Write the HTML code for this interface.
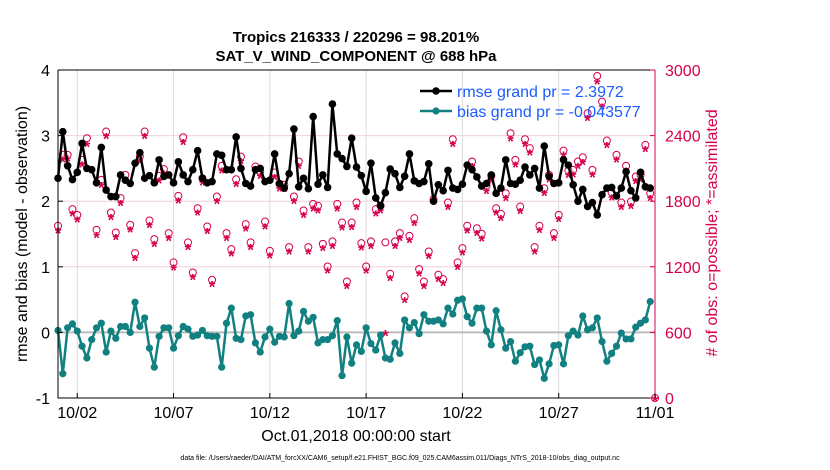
<!DOCTYPE html>
<html><head><meta charset="utf-8"><style>
body{margin:0;background:#fff;}
svg{display:block;font-family:"Liberation Sans",sans-serif;}
</style></head><body>
<svg id="chart" width="830" height="470">
<rect width="830" height="470" fill="#fff"/>
<g id="grid"></g><g id="marks"></g><g id="axes"></g>
</svg>
<script>
const rmse=[2.35,3.06,2.54,2.33,2.44,2.88,2.5,2.48,2.28,2.82,2.17,2.07,2.07,2.4,2.32,2.27,2.58,2.74,2.35,2.39,2.28,2.63,2.38,2.4,2.28,2.6,2.4,2.3,2.48,2.77,2.35,2.28,2.3,2.72,2.7,2.48,2.48,2.98,2.5,2.27,2.23,2.48,2.5,2.3,2.32,2.72,2.27,2.2,2.42,3.1,2.22,2.35,2.19,3.29,2.26,2.4,2.21,3.48,2.72,2.65,2.53,2.96,2.52,2.39,2.15,2.58,2.05,1.93,2.13,2.49,2.42,2.21,2.38,2.72,2.31,2.27,2.3,2.57,2.0,2.25,2.16,2.47,2.2,2.18,2.26,2.55,2.48,2.37,2.23,2.27,2.4,2.12,2.2,2.63,2.27,2.26,2.32,2.52,2.4,2.5,2.2,2.84,2.38,2.27,2.28,2.63,2.55,2.25,2.0,2.18,1.92,1.98,1.79,2.1,2.2,2.21,2.08,2.2,2.45,2.16,2.05,2.44,2.22,2.2];
const bias=[0.03,-0.63,0.07,0.13,0.02,-0.21,-0.39,-0.11,0.07,0.14,-0.3,0.02,-0.09,0.09,0.09,0,0.46,0.09,0.22,-0.24,-0.53,-0.06,0.07,0.07,-0.24,-0.05,0.09,0.05,-0.06,-0.04,0.03,-0.05,-0.06,-0.06,-0.53,0.14,0.37,-0.09,-0.11,0.25,0.27,-0.16,-0.3,-0.07,0.05,-0.15,-0.06,-0.07,0.44,-0.05,0.02,0.32,0.17,0.23,-0.16,-0.11,-0.11,-0.05,0.18,-0.66,-0.07,-0.47,-0.19,-0.29,0.07,-0.17,-0.27,-0.04,-0.39,-0.41,-0.16,-0.32,0.19,0.07,0.15,-0.02,0.27,0.17,0.17,0.19,0.13,0.37,0.28,0.49,0.51,0.24,0.14,0.37,0.37,0.02,-0.19,0.33,0.04,-0.24,-0.14,-0.44,-0.31,-0.22,-0.21,-0.49,-0.42,-0.7,-0.48,-0.2,-0.19,-0.48,-0.05,0.02,-0.04,0.25,0.04,0.07,0.22,-0.14,-0.44,-0.32,-0.21,-0.01,-0.1,-0.1,0.08,0.14,0.19,0.47];
const obsPossible=[1575,2224,2224,1727,1675,2178,2376,null,1538,1995,2437,1697,1514,1828,2041,1584,1325,2208,2437,1624,1453,2032,2093,1508,1240,1849,2385,1423,1148,1736,2010,1569,1081,1843,2123,1508,1362,2001,2208,1590,1423,2117,2071,1614,1346,2062,1959,1950,1380,1843,2163,1715,1380,1776,1758,1410,1203,1432,1776,1605,1066,1605,1788,1416,1203,1432,1727,1758,1423,1136,1432,1508,929,1483,1645,1179,1066,1340,1818,1127,1087,1788,2367,1240,1371,1575,2163,1553,1502,1940,2032,1736,1685,1873,2422,2178,1751,2367,2285,1380,1575,1919,2041,1508,1675,2263,2080,2087,2163,2202,2604,2087,2945,2711,2355,1879,2224,1788,2123,1797,2026,2041,2315,1873,0];
const obsAssim=[1535,2184,2194,1690,1635,2140,2330,null,1495,1955,2400,1660,1475,1790,2000,1545,1285,2170,2400,1585,1415,1995,2060,1470,1200,1810,2345,1385,1110,1700,1975,1530,1045,1805,2085,1470,1325,1960,2170,1555,1385,2080,2035,1575,1310,2025,1920,1915,1345,1805,2125,1680,1345,1740,1720,1375,1170,1395,1740,1565,1030,1570,1750,1380,1170,1395,1690,1720,600,1100,1395,1470,900,1450,1605,1145,1030,1305,1800,1095,1055,1750,2330,1205,1335,1535,2125,1515,1465,1900,1995,1700,1650,1835,2380,2140,1715,2330,2250,1345,1540,1880,2005,1470,1640,2230,2045,2050,2125,2165,2565,2050,2900,2670,2320,1840,2185,1750,2085,1760,1990,2005,2280,1835,0];
const xTickDays=[1,6,11,16,21,26,31];
const xTickLabels=["10/02","10/07","10/12","10/17","10/22","10/27","11/01"];
const yTicks=[-1,0,1,2,3,4];
const y2Ticks=[0,600,1200,1800,2400,3000];

const L=58,R=655,T=70,B=398,NS="http://www.w3.org/2000/svg",CR="#d6004f";
const X=d=>L+d*(R-L)/31;
const Y=v=>B-(v+1)*(B-T)/5;
const Y2=c=>B-c*(B-T)/3000;
function mk(tag,at,parent,txt){const e=document.createElementNS(NS,tag);for(const k in at)e.setAttribute(k,at[k]);if(txt!==undefined)e.textContent=txt;document.getElementById(parent).appendChild(e);return e;}

yTicks.slice(1,-1).forEach(v=>{if(v!==0){const g=mk('line',{x1:L,x2:R,y1:Y(v),y2:Y(v),stroke:'#f0d0dc','stroke-width':1},'grid');

}});
xTickDays.forEach(d=>{const g=mk('line',{x1:X(d),x2:X(d),y1:T,y2:B,stroke:'#dcdcdc','stroke-width':1},'grid');

});
const z=mk('line',{x1:L,x2:R,y1:Y(0),y2:Y(0),stroke:'#bbb','stroke-width':2},'grid');



obsPossible.forEach((c,i)=>{if(c===null)return;const m=mk('circle',{cx:X(i*0.25),cy:Y2(c),r:3.5,fill:'none',stroke:CR,'stroke-width':1},'marks');

});
obsAssim.forEach((c,i)=>{if(c===null)return;const x=X(i*0.25),y=Y2(c);const m=mk('text',{x:x,y:y+9,'text-anchor':'middle','font-size':17,fill:CR,'font-weight':'bold'},'marks','*');

});

function series(arr,color,name,r){
 const p=mk('polyline',{points:arr.map((v,i)=>X(i*0.25)+','+Y(v)).join(' '),fill:'none',stroke:color,'stroke-width':2.5,'stroke-linejoin':'round'},'marks');
 
 
 arr.forEach((v,i)=>{const c=mk('circle',{cx:X(i*0.25),cy:Y(v),r:r,fill:color},'marks');
 
 });
}
series(rmse,'#000','rmse',3.8);
series(bias,'#118080','bias',3.6);

const fr=mk('path',{d:`M${L},${T}H${R}M${L},${T}V${B}H${R}`,stroke:'#000',fill:'none','stroke-width':1},'axes');


const ra=mk('line',{x1:R,x2:R,y1:T,y2:B,stroke:CR,'stroke-width':1},'axes');


yTicks.forEach(v=>{mk('line',{x1:L,x2:L+5,y1:Y(v),y2:Y(v),stroke:'#000'},'axes');
const t=mk('text',{x:L-8,y:Y(v)+6,'text-anchor':'end','font-size':16},'axes',String(v));

});
y2Ticks.forEach(c=>{mk('line',{x1:R-5,x2:R,y1:Y2(c),y2:Y2(c),stroke:CR},'axes');
const t=mk('text',{x:R+10,y:Y2(c)+6,'font-size':16,fill:CR},'axes',String(c));

});
xTickDays.forEach((d,i)=>{mk('line',{x1:X(d),x2:X(d),y1:B,y2:B-5,stroke:'#000'},'axes');
const t=mk('text',{x:X(d),y:B+20,'text-anchor':'middle','font-size':16},'axes',xTickLabels[i]);

});
</script>
<svg width="830" height="470" style="position:absolute;left:0;top:0">
<text x="356" y="42" text-anchor="middle" font-size="15" font-weight="bold" font-family="Liberation Sans, sans-serif">Tropics 216333 / 220296 = 98.201%</text>
<text x="356" y="61" text-anchor="middle" font-size="15" font-weight="bold" font-family="Liberation Sans, sans-serif">SAT_V_WIND_COMPONENT @ 688 hPa</text>
<text transform="translate(27,234) rotate(-90)" text-anchor="middle" font-size="16" font-family="Liberation Sans, sans-serif">rmse and bias (model - observation)</text>
<text transform="translate(717,233) rotate(-90)" text-anchor="middle" font-size="16" fill="#d6004f" font-family="Liberation Sans, sans-serif"># of obs: o=possible; *=assimilated</text>
<text x="356" y="441" text-anchor="middle" font-size="16" font-family="Liberation Sans, sans-serif">Oct.01,2018 00:00:00 start</text>
<text x="400" y="460" text-anchor="middle" font-size="7" font-family="Liberation Sans, sans-serif">data file: /Users/raeder/DAI/ATM_forcXX/CAM6_setup/f.e21.FHIST_BGC.f09_025.CAM6assim.011/Diags_NTrS_2018-10/obs_diag_output.nc</text>
<g>
<g>
<line x1="420" x2="452" y1="91" y2="91" stroke="#000" stroke-width="2.5"/><circle cx="436" cy="91" r="3.8" fill="#000"/>
<text x="457" y="97" font-size="16" fill="#1a5cff" font-family="Liberation Sans, sans-serif">rmse grand pr = 2.3972</text></g>
<g>
<line x1="420" x2="452" y1="111" y2="111" stroke="#118080" stroke-width="2.5"/><circle cx="436" cy="111" r="3.6" fill="#118080"/>
<text x="457" y="117" font-size="16" fill="#1a5cff" font-family="Liberation Sans, sans-serif">bias grand pr = -0.043577</text></g>
</g>
</svg>
</body></html>
